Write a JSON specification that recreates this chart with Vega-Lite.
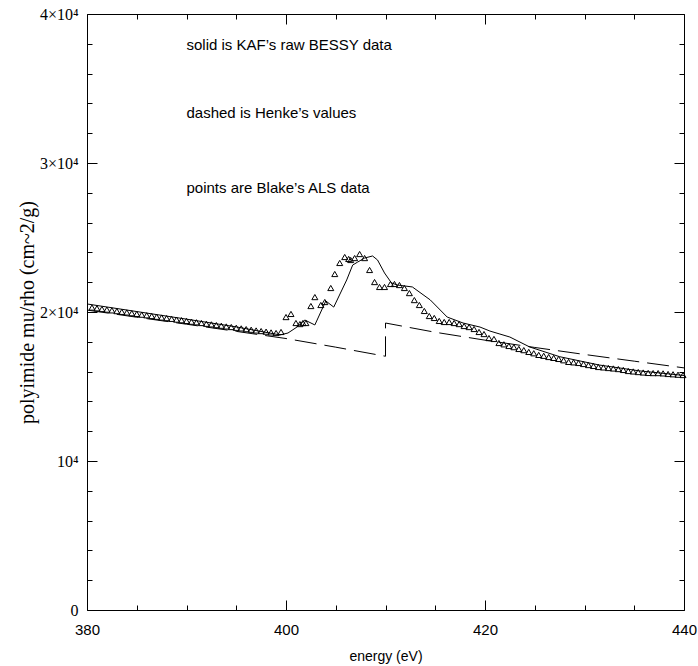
{
  "$schema": "https://vega.github.io/schema/vega-lite/v6.json",
  "width": 597,
  "height": 596,
  "autosize": {"type": "none"},
  "padding": {"left": 87, "top": 14, "right": 14, "bottom": 56},
  "background": "white",
  "config": {
    "view": {"stroke": "black", "strokeWidth": 1},
    "axis": {"grid": false, "domain": false, "ticks": false, "labelColor": "black", "titleColor": "black", "titleFontWeight": "normal"}
  },
  "datasets": {
    "henke": [
      {"e": 380, "v": 20130, "i": 1}, {"e": 385, "v": 19650, "i": 2}, {"e": 390, "v": 19180, "i": 3},
      {"e": 395, "v": 18700, "i": 4}, {"e": 400, "v": 18220, "i": 5}, {"e": 405, "v": 17640, "i": 6},
      {"e": 410, "v": 17030, "i": 7}, {"e": 410, "v": 19260, "i": 8}, {"e": 415, "v": 18640, "i": 9},
      {"e": 420, "v": 18110, "i": 10}, {"e": 425, "v": 17620, "i": 11}, {"e": 430, "v": 17150, "i": 12},
      {"e": 435, "v": 16700, "i": 13}, {"e": 440, "v": 16250, "i": 14}
    ],
    "bessy": [
      {"e": 380, "v": 20540}, {"e": 385, "v": 20030}, {"e": 390, "v": 19520}, {"e": 395, "v": 19000},
      {"e": 399.4, "v": 18460}, {"e": 400.2, "v": 18590}, {"e": 401.1, "v": 18990}, {"e": 401.9, "v": 19460},
      {"e": 402.9, "v": 19130}, {"e": 404.0, "v": 20740}, {"e": 404.8, "v": 20330}, {"e": 406.1, "v": 22150},
      {"e": 406.7, "v": 23150}, {"e": 407.2, "v": 23350}, {"e": 407.9, "v": 23620}, {"e": 408.7, "v": 23760},
      {"e": 409.2, "v": 23490}, {"e": 409.9, "v": 22620}, {"e": 410.6, "v": 21950}, {"e": 411.2, "v": 21810},
      {"e": 412.7, "v": 21680}, {"e": 414.5, "v": 20810}, {"e": 416.2, "v": 19660}, {"e": 417.8, "v": 19260},
      {"e": 419.5, "v": 18990}, {"e": 420.5, "v": 18720}, {"e": 421.5, "v": 18520}, {"e": 422.5, "v": 18320},
      {"e": 424.5, "v": 17650}, {"e": 427.5, "v": 17000}, {"e": 431.5, "v": 16440}, {"e": 435.5, "v": 16050},
      {"e": 440, "v": 15740}
    ],
    "als": [
      {"e": 380.5, "v": 20300}, {"e": 381, "v": 20250}, {"e": 381.5, "v": 20200}, {"e": 382, "v": 20160},
      {"e": 382.5, "v": 20110}, {"e": 383, "v": 20060}, {"e": 383.5, "v": 20010}, {"e": 384, "v": 19970},
      {"e": 384.5, "v": 19920}, {"e": 385, "v": 19870}, {"e": 385.5, "v": 19820}, {"e": 386, "v": 19780},
      {"e": 386.5, "v": 19730}, {"e": 387, "v": 19680}, {"e": 387.5, "v": 19630}, {"e": 388, "v": 19590},
      {"e": 388.5, "v": 19540}, {"e": 389, "v": 19490}, {"e": 389.5, "v": 19450}, {"e": 390, "v": 19400},
      {"e": 390.5, "v": 19350}, {"e": 391, "v": 19310}, {"e": 391.5, "v": 19260}, {"e": 392, "v": 19210},
      {"e": 392.5, "v": 19170}, {"e": 393, "v": 19120}, {"e": 393.5, "v": 19080}, {"e": 394, "v": 19030},
      {"e": 394.5, "v": 18990}, {"e": 395, "v": 18940}, {"e": 395.5, "v": 18900}, {"e": 396, "v": 18850},
      {"e": 396.5, "v": 18810}, {"e": 397, "v": 18760}, {"e": 397.5, "v": 18720}, {"e": 398, "v": 18680},
      {"e": 398.5, "v": 18630}, {"e": 399, "v": 18590}, {"e": 399.5, "v": 18660}, {"e": 400.0, "v": 19660},
      {"e": 400.5, "v": 19870}, {"e": 401.0, "v": 19260}, {"e": 401.4, "v": 19190}, {"e": 401.7, "v": 19260},
      {"e": 402.0, "v": 19260}, {"e": 402.5, "v": 20400}, {"e": 402.9, "v": 21000}, {"e": 403.5, "v": 20470},
      {"e": 403.9, "v": 20670}, {"e": 404.5, "v": 21610}, {"e": 404.9, "v": 22550}, {"e": 405.4, "v": 23290},
      {"e": 405.9, "v": 23690}, {"e": 406.3, "v": 23560}, {"e": 406.5, "v": 23490}, {"e": 406.9, "v": 23620},
      {"e": 407.4, "v": 23890}, {"e": 407.9, "v": 23620}, {"e": 408.4, "v": 22820}, {"e": 408.9, "v": 22010},
      {"e": 409.4, "v": 21680}, {"e": 409.9, "v": 21680}, {"e": 410.5, "v": 21880}, {"e": 410.9, "v": 21880},
      {"e": 411.4, "v": 21810}, {"e": 411.9, "v": 21610}, {"e": 412.4, "v": 21270}, {"e": 412.9, "v": 20800},
      {"e": 413.4, "v": 20470}, {"e": 413.9, "v": 20070}, {"e": 414.4, "v": 19730}, {"e": 414.9, "v": 19600},
      {"e": 415.4, "v": 19400}, {"e": 415.9, "v": 19330}, {"e": 416.4, "v": 19330}, {"e": 416.9, "v": 19260},
      {"e": 417.4, "v": 19190}, {"e": 417.9, "v": 19060}, {"e": 418.4, "v": 18990}, {"e": 418.9, "v": 18860},
      {"e": 419.4, "v": 18660}, {"e": 419.9, "v": 18520}, {"e": 420.4, "v": 18250}, {"e": 420.9, "v": 18190},
      {"e": 421.4, "v": 17920}, {"e": 421.9, "v": 17830}, {"e": 422.4, "v": 17720}, {"e": 422.9, "v": 17640},
      {"e": 423.4, "v": 17520}, {"e": 423.9, "v": 17440}, {"e": 424.4, "v": 17320}, {"e": 424.9, "v": 17230},
      {"e": 425.4, "v": 17120}, {"e": 425.9, "v": 17060}, {"e": 426.4, "v": 16980}, {"e": 426.9, "v": 16920},
      {"e": 427.4, "v": 16850}, {"e": 427.9, "v": 16760}, {"e": 428.4, "v": 16650}, {"e": 428.9, "v": 16620},
      {"e": 429.4, "v": 16580}, {"e": 429.9, "v": 16510}, {"e": 430.4, "v": 16440}, {"e": 430.9, "v": 16380},
      {"e": 431.4, "v": 16310}, {"e": 431.9, "v": 16280}, {"e": 432.4, "v": 16240}, {"e": 432.9, "v": 16210},
      {"e": 433.4, "v": 16170}, {"e": 433.9, "v": 16110}, {"e": 434.4, "v": 16040}, {"e": 434.9, "v": 16010},
      {"e": 435.4, "v": 15970}, {"e": 435.9, "v": 15940}, {"e": 436.4, "v": 15910}, {"e": 436.9, "v": 15900},
      {"e": 437.4, "v": 15900}, {"e": 437.9, "v": 15880}, {"e": 438.4, "v": 15840}, {"e": 438.9, "v": 15820},
      {"e": 439.4, "v": 15790}, {"e": 439.9, "v": 15770}
    ],
    "notes": [
      {"e": 390, "v": 37600, "t": "solid is KAF’s raw BESSY data"},
      {"e": 390, "v": 33000, "t": "dashed is Henke’s values"},
      {"e": 390, "v": 28000, "t": "points are Blake’s ALS data"}
    ]
  },
  "resolve": {"axis": {"x": "independent", "y": "independent"}},
  "layer": [
    {
      "data": {"name": "henke"},
      "mark": {"type": "line", "color": "black", "strokeWidth": 1, "strokeDash": [22, 8]},
      "encoding": {
        "x": {"field": "e", "type": "quantitative",
          "scale": {"domain": [380, 440], "nice": false, "zero": false},
          "axis": {"orient": "bottom", "values": [380, 400, 420, 440], "grid": true, "gridColor": "black", "gridWidth": 1, "gridOpacity": 1, "gridDash": [10, 576, 10],
            "labelPadding": 12, "labelFont": "Liberation Sans", "labelFontSize": 15, "labelFlush": false,
            "title": "energy (eV)", "titleFont": "Liberation Sans", "titleFontSize": 14, "titlePadding": 12}},
        "y": {"field": "v", "type": "quantitative",
          "scale": {"domain": [0, 40000], "nice": false, "zero": true},
          "axis": {"orient": "left", "values": [0, 10000, 20000, 30000, 40000], "grid": true, "gridColor": "black", "gridWidth": 1, "gridOpacity": 1, "gridDash": [10, 577, 10],
            "labelPadding": 9,
            "labelExpr": "datum.value == 0 ? '0' : datum.value == 10000 ? '10⁴' : (datum.value / 10000) + '×10⁴'",
            "labelFont": "Liberation Serif", "labelFontSize": 16, "labelFlush": false,
            "title": "polyimide mu/rho (cm~2/g)", "titleFont": "Liberation Serif", "titleFontSize": 20, "titlePadding": 2}},
        "order": {"field": "i", "type": "quantitative"}
      }
    },
    {
      "data": {"name": "bessy"},
      "mark": {"type": "line", "color": "black", "strokeWidth": 1},
      "encoding": {
        "x": {"field": "e", "type": "quantitative",
          "axis": {"orient": "top", "values": [385, 390, 395, 405, 410, 415, 425, 430, 435], "grid": true, "gridColor": "black", "gridWidth": 1, "gridOpacity": 1, "gridDash": [5, 586, 5], "labels": false, "title": null}},
        "y": {"field": "v", "type": "quantitative",
          "axis": {"orient": "right", "values": [2000, 4000, 6000, 8000, 12000, 14000, 16000, 18000, 22000, 24000, 26000, 28000, 32000, 34000, 36000, 38000], "grid": true, "gridColor": "black", "gridWidth": 1, "gridOpacity": 1, "gridDash": [5, 587, 5], "labels": false, "title": null}}
      }
    },
    {
      "data": {"name": "als"},
      "mark": {"type": "point", "shape": "triangle-up", "filled": false, "color": "black", "opacity": 1, "size": 36, "strokeWidth": 1},
      "encoding": {
        "x": {"field": "e", "type": "quantitative", "axis": null},
        "y": {"field": "v", "type": "quantitative", "axis": null}
      }
    },
    {
      "data": {"name": "notes"},
      "mark": {"type": "text", "align": "left", "baseline": "alphabetic", "font": "Liberation Sans", "fontSize": 15, "color": "black"},
      "encoding": {
        "x": {"field": "e", "type": "quantitative", "axis": null},
        "y": {"field": "v", "type": "quantitative", "axis": null},
        "text": {"field": "t"}
      }
    }
  ]
}
